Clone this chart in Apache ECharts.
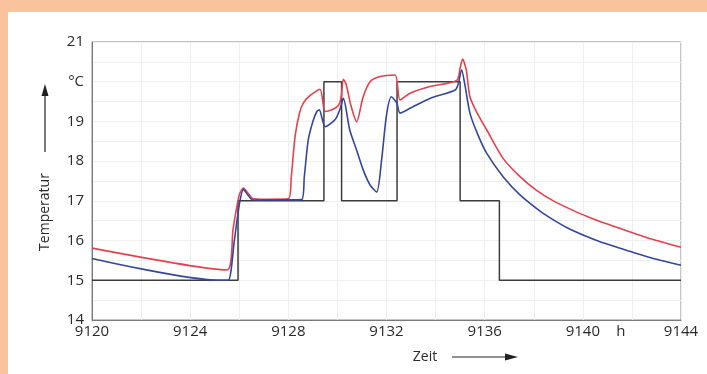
<!DOCTYPE html>
<html>
<head>
<meta charset="utf-8">
<script src="https://cdn.jsdelivr.net/npm/echarts@6/dist/echarts.min.js"></script>
<style>
html,body{margin:0;padding:0;width:707px;height:374px;background:#f9c49d;overflow:hidden;}
#chart{position:absolute;left:8px;top:12px;width:699px;height:362px;background:#ffffff;}
</style>
</head>
<body>
<div id="chart"></div>
<script>
// ---- data ----
const setTime = [9120, 9125.95, 9125.95, 9129.45, 9129.45, 9130.17, 9130.17, 9132.43, 9132.43, 9135.0, 9135.0, 9136.6, 9136.6, 9144];
const setTemp = [15, 15, 17, 17, 20, 20, 17, 17, 20, 20, 17, 17, 15, 15];

const redTime = [9120, 9125.5, 9125.75, 9126.0, 9126.17, 9126.35, 9126.55, 9127.0, 9128.0, 9128.12, 9128.27, 9128.45, 9128.61, 9128.9, 9129.29, 9129.5, 9129.8, 9130.04, 9130.15, 9130.24, 9130.35, 9130.55, 9130.78, 9131.05, 9131.33, 9131.74, 9132.35, 9132.55, 9132.96, 9133.77, 9134.86, 9135.0, 9135.1, 9135.25, 9135.4, 9135.7, 9136.08, 9136.75, 9137.44, 9138.1, 9138.8, 9139.6, 9140.2, 9140.7, 9141.5, 9142.06, 9143.0, 9144];
const redTemp = [15.81, 15.26, 16.3, 17.15, 17.32, 17.2, 17.06, 17.04, 17.05, 17.6, 18.6, 19.2, 19.46, 19.66, 19.81, 19.25, 19.3, 19.4, 19.6, 20.06, 19.95, 19.4, 18.99, 19.62, 20.0, 20.13, 20.17, 19.54, 19.71, 19.88, 20.03, 20.35, 20.57, 20.3, 19.62, 19.2, 18.79, 18.07, 17.61, 17.27, 17.0, 16.76, 16.6, 16.48, 16.31, 16.19, 16.0, 15.83];

const blueTime = [9120, 9125.2, 9125.55, 9125.8, 9126.0, 9126.17, 9126.35, 9126.55, 9128.54, 9128.65, 9128.81, 9129.0, 9129.16, 9129.26, 9129.5, 9129.9, 9130.1, 9130.24, 9130.5, 9130.78, 9131.05, 9131.33, 9131.6, 9131.8, 9132.0, 9132.2, 9132.42, 9132.55, 9132.96, 9133.77, 9134.8, 9134.93, 9135.06, 9135.2, 9135.4, 9135.7, 9136.08, 9136.76, 9137.44, 9138.3, 9138.8, 9139.34, 9140.16, 9140.7, 9141.4, 9142.06, 9143.0, 9144];
const blueTemp = [15.55, 15.0, 15.0, 16.0, 16.9, 17.29, 17.15, 17.02, 17.03, 17.6, 18.53, 19.0, 19.25, 19.29, 18.87, 19.04, 19.3, 19.58, 18.79, 18.28, 17.78, 17.4, 17.22, 18.03, 19.16, 19.62, 19.46, 19.21, 19.33, 19.58, 19.79, 19.96, 20.3, 19.9, 19.21, 18.7, 18.2, 17.6, 17.15, 16.72, 16.52, 16.33, 16.1, 15.97, 15.83, 15.7, 15.53, 15.38];

const xTickLabels = {9120: '9120', 9124: '9124', 9128: '9128', 9132: '9132', 9136: '9136', 9140: '9140', 9142: 'h', 9144: '9144'};
const yTickLabels = {14: '14', 15: '15', 16: '16', 17: '17', 18: '18', 19: '19', 20: '°C', 21: '21'};

const zip = (a, b) => a.map((v, i) => [v, b[i]]);

const FONT = '"Open Sans", "Liberation Sans", sans-serif';
const chart = echarts.init(document.getElementById('chart'), null, {renderer: 'canvas'});

chart.setOption({
  animation: false,
  backgroundColor: '#ffffff',
  grid: {left: 84, right: 26, top: 30, bottom: 54, show: true, borderColor: '#8a8a8a', borderWidth: 1},
  xAxis: {
    type: 'value', min: 9120, max: 9144, interval: 2,
    axisLine: {show: true, lineStyle: {color: '#7a7a7a', width: 1}},
    axisTick: {show: false},
    splitLine: {show: true, lineStyle: {color: '#efefef', width: 1}},
    axisLabel: {
      color: '#2a2a2a', fontFamily: FONT, fontSize: 15, margin: 4,
      formatter: v => {
        const t = xTickLabels[Math.round(v)];
        if (!t) return '';
        return t === 'h' ? '{h|h}' : t;
      },
      rich: {h: {fontFamily: FONT, fontSize: 15, color: '#2a2a2a', padding: [0, 22, 0, 0]}}
    }
  },
  yAxis: {
    type: 'value', min: 14, max: 21, interval: 0.5,
    axisLine: {show: true, lineStyle: {color: '#7a7a7a', width: 1}},
    axisTick: {show: false},
    splitLine: {show: true, lineStyle: {color: '#efefef', width: 1}},
    axisLabel: {
      color: '#2a2a2a', fontFamily: FONT, fontSize: 15, margin: 8,
      formatter: v => (Math.abs(v - Math.round(v)) < 1e-6 ? (yTickLabels[Math.round(v)] || '') : '')
    }
  },
  graphic: [
    {type: 'text', x: 37, y: 200, rotation: Math.PI / 2, style: {text: 'Temperatur', fontFamily: FONT, fontSize: 14, fill: '#2a2a2a', align: 'center', verticalAlign: 'middle'}},
    {type: 'line', shape: {x1: 37, y1: 140, x2: 37, y2: 80}, style: {stroke: '#222', lineWidth: 1.2}},
    {type: 'polygon', shape: {points: [[37, 72], [33.5, 84], [40.5, 84]]}, style: {fill: '#222'}},
    {type: 'text', x: 417, y: 345, style: {text: 'Zeit', fontFamily: FONT, fontSize: 14, fill: '#2a2a2a', align: 'center', verticalAlign: 'middle'}},
    {type: 'line', shape: {x1: 444, y1: 345, x2: 500, y2: 345}, style: {stroke: '#222', lineWidth: 1.2}},
    {type: 'polygon', shape: {points: [[510, 345], [497, 341.5], [497, 348.5]]}, style: {fill: '#222'}}
  ],
  series: [
    {type: 'line', data: zip(setTime, setTemp), showSymbol: false, lineStyle: {color: '#3c3c3c', width: 1.5}, z: 2},
    {type: 'line', data: zip(redTime, redTemp), showSymbol: false, smooth: 0.25, lineStyle: {color: '#e5414d', width: 1.6}, z: 3},
    {type: 'line', data: zip(blueTime, blueTemp), showSymbol: false, smooth: 0.25, lineStyle: {color: '#34479b', width: 1.6}, z: 4}
  ]
});
</script>
</body>
</html>
